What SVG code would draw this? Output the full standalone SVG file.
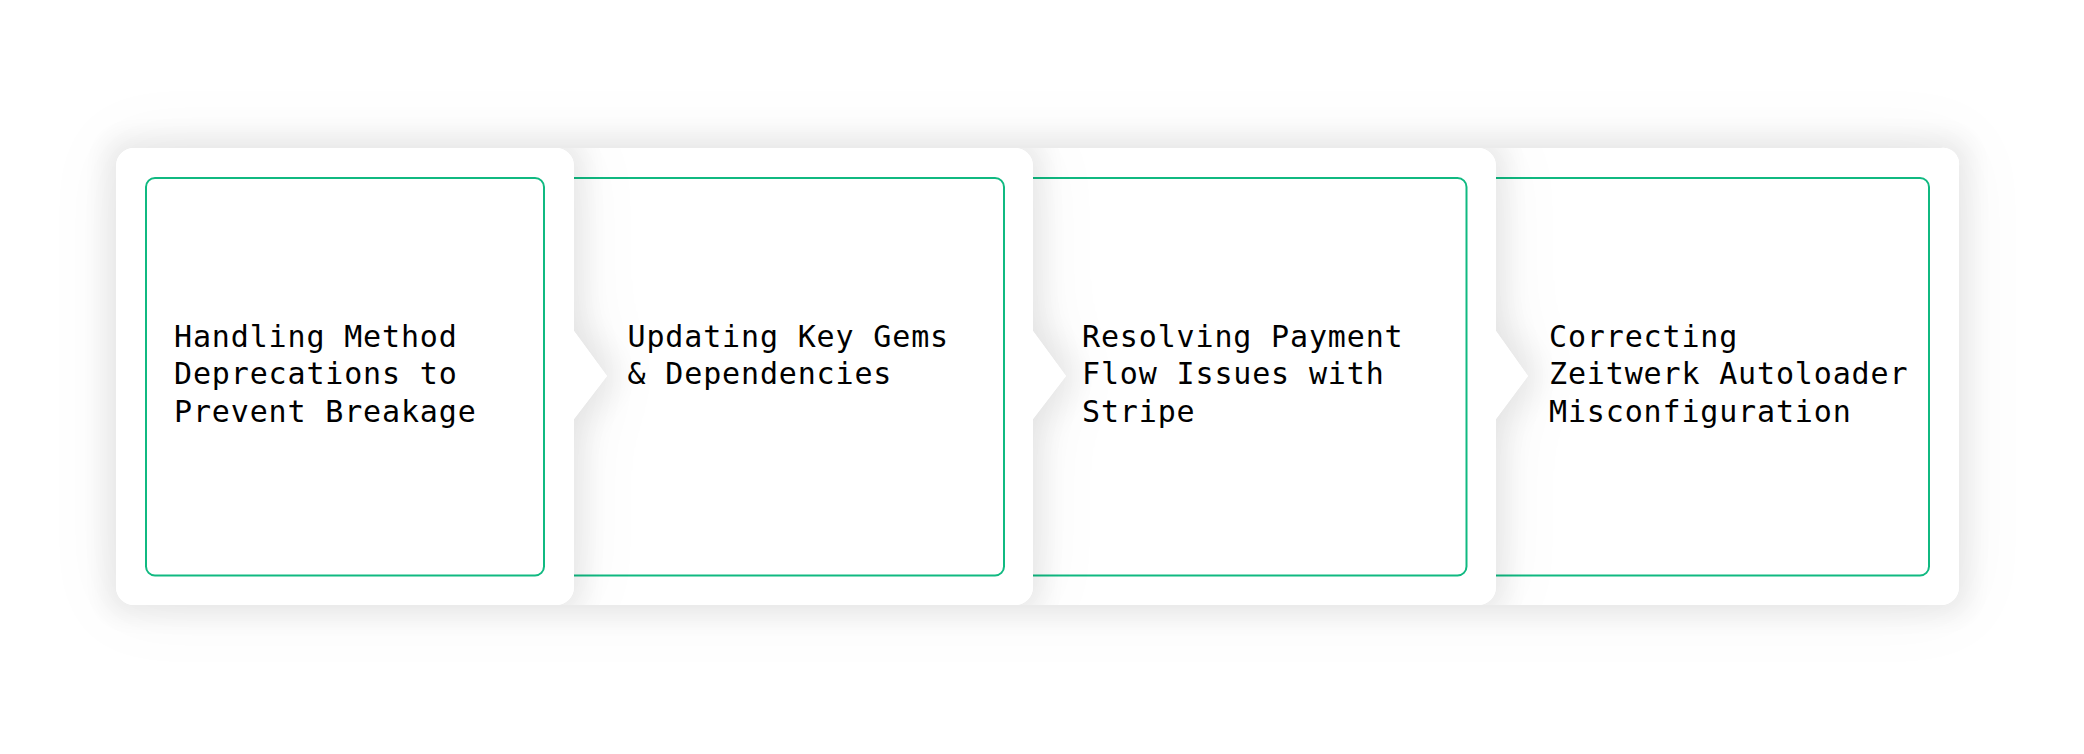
<svg xmlns="http://www.w3.org/2000/svg" width="2084" height="754" viewBox="0 0 2084 754">
  <defs>
    <filter id="shadow" x="-25%" y="-35%" width="150%" height="170%" color-interpolation-filters="sRGB">
      <feMorphology in="SourceAlpha" operator="dilate" radius="10" result="d"/>
      <feGaussianBlur in="d" stdDeviation="14" result="b1"/>
      <feFlood flood-color="#000" flood-opacity="0.075"/>
      <feComposite in2="b1" operator="in" result="s1"/>
      <feGaussianBlur in="SourceAlpha" stdDeviation="34" result="b2"/>
      <feFlood flood-color="#000" flood-opacity="0.055"/>
      <feComposite in2="b2" operator="in" result="s2"/>
      <feMerge>
        <feMergeNode in="s2"/>
        <feMergeNode in="s1"/>
        <feMergeNode in="SourceGraphic"/>
      </feMerge>
    </filter>
    <path id="shape4" d="M1474,148 H1941 A16,16 0 0 1 1959,166 V587 A18,18 0 0 1 1941,605 H1474 A18,18 0 0 1 1456,587 V166 A18,18 0 0 1 1474,148 Z"/>
    <path id="shape3" d="M1011,148 H1478 A18,18 0 0 1 1496,166 V331 L1528,376 L1496,419 V587 A18,18 0 0 1 1478,605 H1011 A18,18 0 0 1 993,587 V166 A18,18 0 0 1 1011,148 Z"/>
    <path id="shape2" d="M552,148 H1015 A18,18 0 0 1 1033,166 V331 L1066,376 L1033,419 V587 A18,18 0 0 1 1015,605 H552 A18,18 0 0 1 534,587 V166 A18,18 0 0 1 552,148 Z"/>
    <path id="shape1" d="M134,148 H556 A18,18 0 0 1 574,166 V331 L607,376 L574,419 V587 A18,18 0 0 1 556,605 H134 A18,18 0 0 1 116,587 V166 A18,18 0 0 1 134,148 Z"/>
    <clipPath id="on4"><rect x="1456" y="148" width="503" height="457"/></clipPath>
    <clipPath id="on3"><rect x="993" y="148" width="503" height="457"/></clipPath>
    <clipPath id="on2"><rect x="534" y="148" width="499" height="457"/></clipPath>
  </defs>
  <style>
    .card { fill: #ffffff; }
    .cast { fill: #ffffff; filter: url(#shadow); }
    .inner { fill: none; stroke: #10b981; stroke-width: 2; }
    .label { font-family: "DejaVu Sans Mono", "Liberation Mono", monospace; font-size: 30px; letter-spacing: 0.85px; fill: #000000; }
  </style>
  <rect width="2084" height="754" fill="#ffffff"/>

  <g id="backdrop" filter="url(#shadow)">
    <use href="#shape4" class="card"/>
    <use href="#shape3" class="card"/>
    <use href="#shape2" class="card"/>
    <use href="#shape1" class="card"/>
  </g>

  <g id="card4">
    <use href="#shape4" class="card"/>
    <rect class="inner" x="1486" y="178" width="443" height="397.5" rx="9"/>
    <text class="label" x="1549"><tspan x="1549" y="346.5">Correcting</tspan><tspan x="1549" y="384">Zeitwerk Autoloader</tspan><tspan x="1549" y="421.5">Misconfiguration</tspan></text>
  </g>

  <g id="card3">
    <use href="#shape3" class="cast" clip-path="url(#on4)"/>
    <use href="#shape3" class="card"/>
    <rect class="inner" x="1023" y="178" width="443.5" height="397.5" rx="9"/>
    <text class="label" x="1082"><tspan x="1082" y="346.5">Resolving Payment</tspan><tspan x="1082" y="384">Flow Issues with</tspan><tspan x="1082" y="421.5">Stripe</tspan></text>
  </g>

  <g id="card2">
    <use href="#shape2" class="cast" clip-path="url(#on3)"/>
    <use href="#shape2" class="card"/>
    <rect class="inner" x="564" y="178" width="440" height="397.5" rx="9"/>
    <text class="label" x="627.5"><tspan x="627.5" y="346.5">Updating Key Gems</tspan><tspan x="627.5" y="384">&amp; Dependencies</tspan></text>
  </g>

  <g id="card1">
    <use href="#shape1" class="cast" clip-path="url(#on2)"/>
    <use href="#shape1" class="card"/>
    <rect class="inner" x="146" y="178" width="398" height="397.5" rx="9"/>
    <text class="label" x="174"><tspan x="174" y="346.5">Handling Method</tspan><tspan x="174" y="384">Deprecations to</tspan><tspan x="174" y="421.5">Prevent Breakage</tspan></text>
  </g>
</svg>
